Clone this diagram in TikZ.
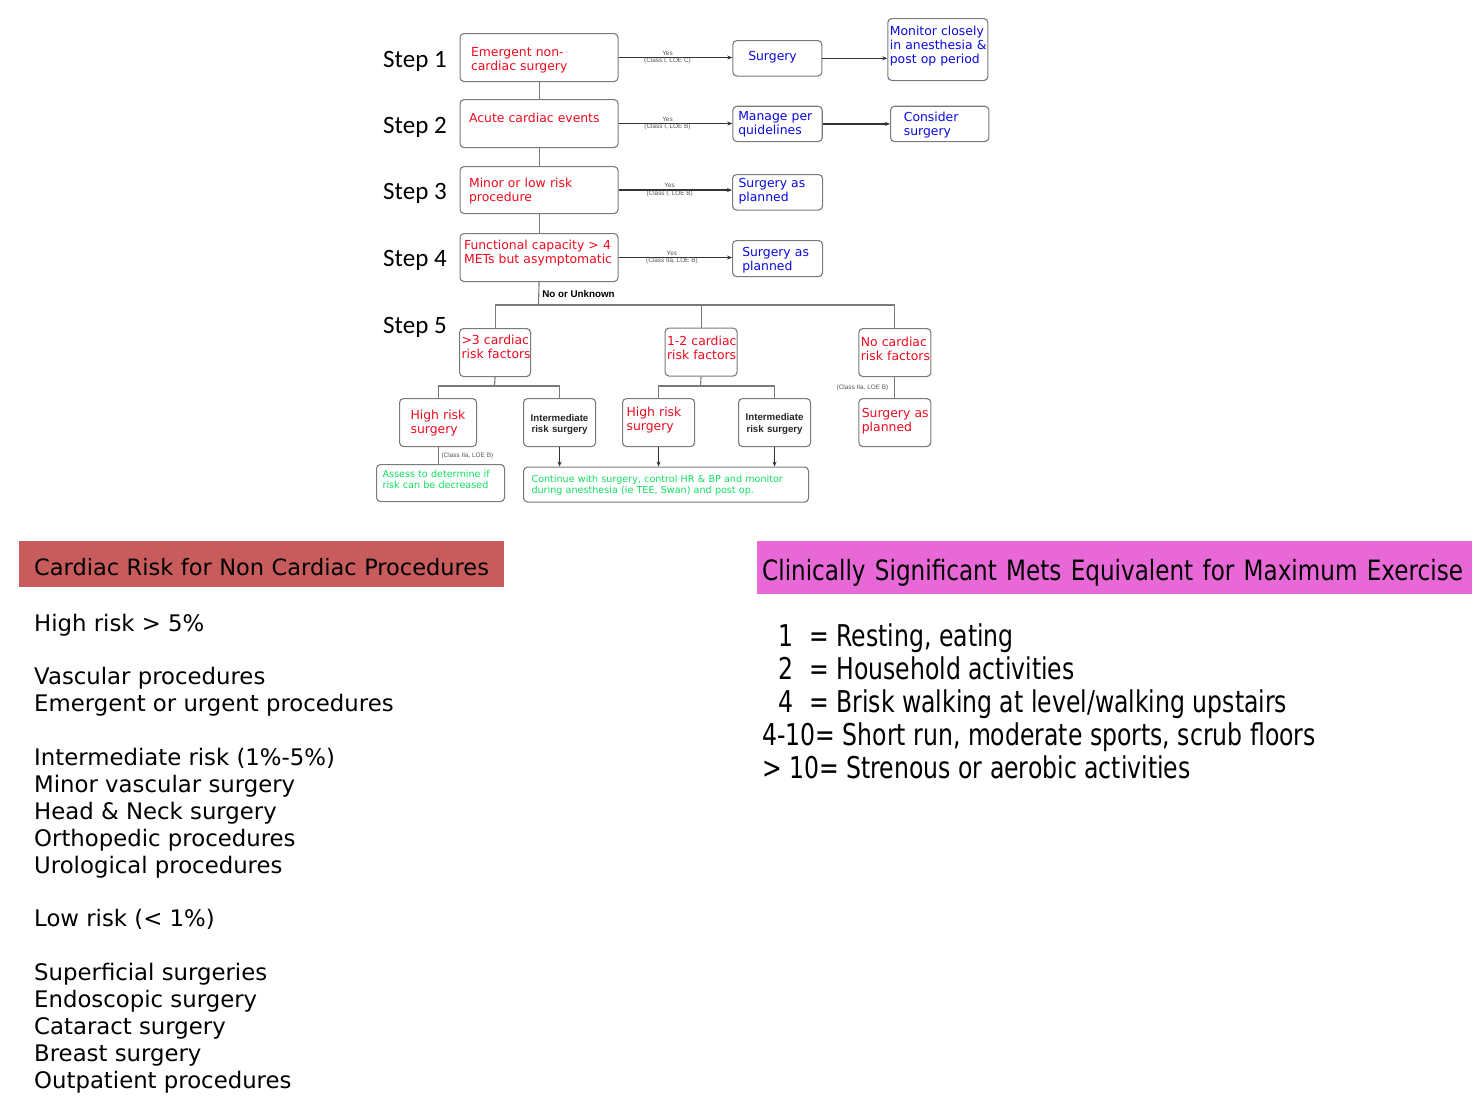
\documentclass[tikz,border=0pt]{standalone}
\usepackage{fontspec}
\setmainfont{DejaVu Sans}
\newfontfamily\stepf{Carlito}
\newfontfamily\arialf{Liberation Sans}
\newfontfamily\condf[FakeStretch=0.785]{DejaVu Sans}
\newfontfamily\condtf[FakeStretch=0.825]{DejaVu Sans}
\usetikzlibrary{arrows.meta}
\definecolor{bordergray}{HTML}{7A7A7A}
\definecolor{txtred}{HTML}{EE0A1E}
\definecolor{txtblue}{HTML}{0A0ADC}
\definecolor{txtgreen}{HTML}{10E060}
\definecolor{bannerred}{HTML}{C85C5C}
\definecolor{bannerpink}{HTML}{E868D8}
\definecolor{arrowgray}{HTML}{333333}
\definecolor{lblgray}{HTML}{555555}
% struts fixing first-line height (#1) and last-line depth (#2)
\newcommand\tx[3]{\rule{0pt}{#1pt}#3\rule[-#2pt]{0pt}{#2pt}}
\begin{document}
\begin{tikzpicture}[x=1pt,y=-1pt,
  box/.style={draw=bordergray, line width=1.1pt, rounded corners=4pt, anchor=north west, align=left, inner ysep=0pt},
  bx/.style n args={4}{minimum width=#1pt, minimum height=#2pt, inner xsep=#3pt, text width=#4pt},
  redt/.style={text=txtred, font=\fontsize{12.4}{14}\selectfont},
  bluet/.style={text=txtblue, font=\fontsize{12.4}{14}\selectfont},
  greent/.style={text=txtgreen, font=\fontsize{9.6}{10.8}\selectfont},
  inter/.style={text=black!85, align=center, font=\arialf\bfseries\fontsize{9.7}{11.6}\selectfont},
  steplbl/.style={anchor=west, inner sep=0pt, font=\stepf\fontsize{25}{30}\selectfont},
  yes/.style={text=lblgray, align=center, inner sep=0pt, font=\arialf\fontsize{6.4}{7.8}\selectfont},
  cls/.style={text=lblgray, inner sep=0pt, font=\arialf\fontsize{6.4}{7.8}\selectfont},
  ln/.style={draw=bordergray, line width=1.1pt},
  arr/.style={draw=arrowgray, line width=1.3pt, -{Stealth[length=5pt,width=4pt]}},
  lefttxt/.style={anchor=base west, inner sep=0pt, font=\fontsize{22.8}{27}\selectfont},
  righttxt/.style={anchor=base west, inner sep=0pt, font=\condf\fontsize{30}{33}\selectfont}
]
\useasboundingbox (0,0) rectangle (1478,1106);
\fill[white] (0,0) rectangle (1478,1106);

% step labels
\node[steplbl] (l1) at (383,61) {Step 1};
\node[steplbl] (l2) at (383,127) {Step 2};
\node[steplbl] (l3) at (383,193) {Step 3};
\node[steplbl] (l4) at (383,260) {Step 4};
\node[steplbl] (l5) at (383,327) {Step 5};

% main column
\node[box, redt, bx={158}{48}{11}{136}] (s1) at (459.5,33) {\tx{16}{4}{Emergent non-\\cardiac surgery}};
\node[box, redt, bx={158}{48}{9}{140}] (s2) at (459.5,99) {\tx{10}{11.4}{Acute cardiac events}};
\node[box, redt, bx={158}{47}{9}{140}] (s3) at (459.5,166) {\tx{12.4}{4}{Minor or low risk\\procedure}};
\node[box, redt, bx={158}{48}{4}{150}] (s4) at (459.5,233) {\tx{10}{12}{\mbox{Functional capacity > 4}\\\mbox{METs but asymptomatic}}};

% right column
\node[box, bluet, bx={89}{35.5}{15.4}{58.2}] (sur) at (732.3,40) {\tx{10}{5}{Surgery}};
\node[box, bluet, bx={100}{62}{2}{96}] (mon) at (887.3,18) {\tx{10}{10}{\mbox{Monitor closely}\\\mbox{in anesthesia \&}\\\mbox{post op period}}};
\node[box, bluet, bx={89.4}{35.3}{5.4}{78.6}] (man) at (732.3,105.7) {\tx{11}{4}{\mbox{Manage per}\\\mbox{quidelines}}};
\node[box, bluet, bx={98.3}{35.3}{13.3}{71.7}] (con) at (890,105.7) {\tx{13}{4}{Consider\\surgery}};
\node[box, bluet, bx={90}{35.5}{6}{78}] (sp3) at (732,174) {\tx{10}{5.4}{\mbox{Surgery as}\\planned}};
\node[box, bluet, bx={90}{36}{9.7}{70.6}] (sp4) at (732,240) {\tx{13}{4}{\mbox{Surgery as}\\planned}};

% step 5
\node[box, redt, bx={71}{48}{2}{67}] (f1) at (459,328) {\tx{10}{12}{\mbox{>3 cardiac}\\\mbox{risk factors}}};
\node[box, redt, bx={72}{48}{2}{68}] (f2) at (664.5,327.5) {\tx{10}{10}{\mbox{1-2 cardiac}\\\mbox{risk factors}}};
\node[box, redt, bx={72}{48}{2}{68}] (f3) at (858.3,328) {\tx{10}{8.6}{\mbox{No cardiac}\\\mbox{risk factors}}};
\node[box, redt, bx={77}{48}{11}{55}] (h1) at (399,398) {\tx{12}{4}{\mbox{High risk}\\surgery}};
\node[box, inter, bx={72}{48}{2}{68}] (i1) at (523,398) {\tx{12}{3}{Intermediate\\risk surgery}};
\node[box, redt, bx={72}{48}{4}{64}] (h2) at (622,398) {\tx{10}{8}{\mbox{High risk}\\surgery}};
\node[box, inter, bx={72}{48}{2}{68}] (i2) at (738,398) {\tx{10.6}{3}{Intermediate\\risk surgery}};
\node[box, redt, bx={72}{48}{3}{66}] (sp5) at (858.3,398) {\tx{10}{6.6}{\mbox{Surgery as}\\planned}};
\node[box, greent, bx={128}{37}{6}{116}] (as) at (376,464) {\tx{8}{8.3}{\mbox{Assess to determine if}\\\mbox{risk can be decreased}}};
\node[box, greent, bx={285}{35}{8}{269}] (cont) at (523,466.5) {\tx{10.2}{3}{\mbox{Continue with surgery, control HR \& BP and monitor}\\\mbox{during anesthesia (ie TEE, Swan) and post op.}}};

% arrows right
\draw[arr] (s1.east) -- node[yes, pos=0.43]{Yes\\(Class I, LOE C)} (s1.east -| sur.west);
\draw[arr] (sur.east) -- (sur.east -| mon.west);
\draw[arr] (s2.east) -- node[yes, pos=0.43]{Yes\\(Class I, LOE B)} (s2.east -| man.west);
\draw[arr] (man.east) -- (man.east -| con.west);
\draw[arr] (s3.east) -- node[yes, pos=0.45]{Yes\\(Class I, LOE B)} (s3.east -| sp3.west);
\draw[arr] (s4.east) -- node[yes, pos=0.47]{Yes\\(Class IIa, LOE B)} (s4.east -| sp4.west);

% vertical chain
\draw[ln] (s1) -- (s2);
\draw[ln] (s2) -- (s3);
\draw[ln] (s3) -- (s4);
\coordinate (j1) at (538.5,305);
\draw[ln] (s4.south) -- node[pos=0.5, anchor=west, inner sep=0pt, xshift=3pt, font=\arialf\bfseries\fontsize{9.8}{11}\selectfont]{No or Unknown} (j1);
\draw[ln] (f1.north) |- (j1) -| (f3.north);
\draw[ln] (f2.north) -- (f2.north |- j1);

\coordinate (j2) at (494.5,386);
\draw[ln] (f1.south) -- (j2);
\draw[ln] (h1.north) |- (j2) -| (i1.north);
\coordinate (j3) at (700.5,386);
\draw[ln] (f2.south) -- (j3);
\draw[ln] (h2.north) |- (j3) -| (i2.north);
\draw[ln] (f3) -- node[cls, anchor=east, xshift=-6pt]{(Class IIa, LOE B)} (sp5);
\draw[ln] (h1.south) -- node[cls, anchor=west, xshift=3pt]{(Class IIa, LOE B)} (h1.south |- as.north);
\draw[arr] (i1.south) -- (i1.south |- cont.north);
\draw[arr] (h2.south) -- (h2.south |- cont.north);
\draw[arr] (i2.south) -- (i2.south |- cont.north);

% left panel
\node[anchor=north west, fill=bannerred, minimum height=46pt, inner xsep=15pt, inner ysep=0pt, text width=455pt, text height=22pt, text depth=0pt, font=\fontsize{22.5}{27}\selectfont] (t1) at (19,541) {\mbox{Cardiac Risk for Non Cardiac Procedures}};
\node[lefttxt] (a1) at (34,631) {High risk > 5\%};
\node[lefttxt] (a2) at (34,684) {Vascular procedures};
\node[lefttxt] (a3) at (34,711) {Emergent or urgent procedures};
\node[lefttxt] (a4) at (34,765) {Intermediate risk (1\%-5\%)};
\node[lefttxt] (a5) at (34,792) {Minor vascular surgery};
\node[lefttxt] (a6) at (34,819) {Head \& Neck surgery};
\node[lefttxt] (a7) at (34,846) {Orthopedic procedures};
\node[lefttxt] (a8) at (34,873) {Urological procedures};
\node[lefttxt] (a9) at (34,926) {Low risk (< 1\%)};
\node[lefttxt] (a10) at (34,980) {Superficial surgeries};
\node[lefttxt] (a11) at (34,1007) {Endoscopic surgery};
\node[lefttxt] (a12) at (34,1034) {Cataract surgery};
\node[lefttxt] (a13) at (34,1061) {Breast surgery};
\node[lefttxt] (a14) at (34,1088) {Outpatient procedures};

% right panel
\node[anchor=north west, fill=bannerpink, minimum height=53pt, inner xsep=5pt, inner ysep=0pt, text width=705pt, text height=26pt, text depth=0pt, font=\condtf\fontsize{28}{32}\selectfont] (t2) at (757,541) {\mbox{Clinically Significant Mets Equivalent for Maximum Exercise}};
\node[righttxt] (n1) at (778,646) {1};
\node[righttxt] (r1) at (809,646) {= Resting, eating};
\node[righttxt] (n2) at (778,679) {2};
\node[righttxt] (r2) at (809,679) {= Household activities};
\node[righttxt] (n3) at (778,712) {4};
\node[righttxt] (r3) at (809,712) {= Brisk walking at level/walking upstairs};
\node[righttxt] (r4) at (762,745) {4-10= Short run, moderate sports, scrub floors};
\node[righttxt] (r5) at (762,778) {> 10= Strenous or aerobic activities};
\end{tikzpicture}
\end{document}
